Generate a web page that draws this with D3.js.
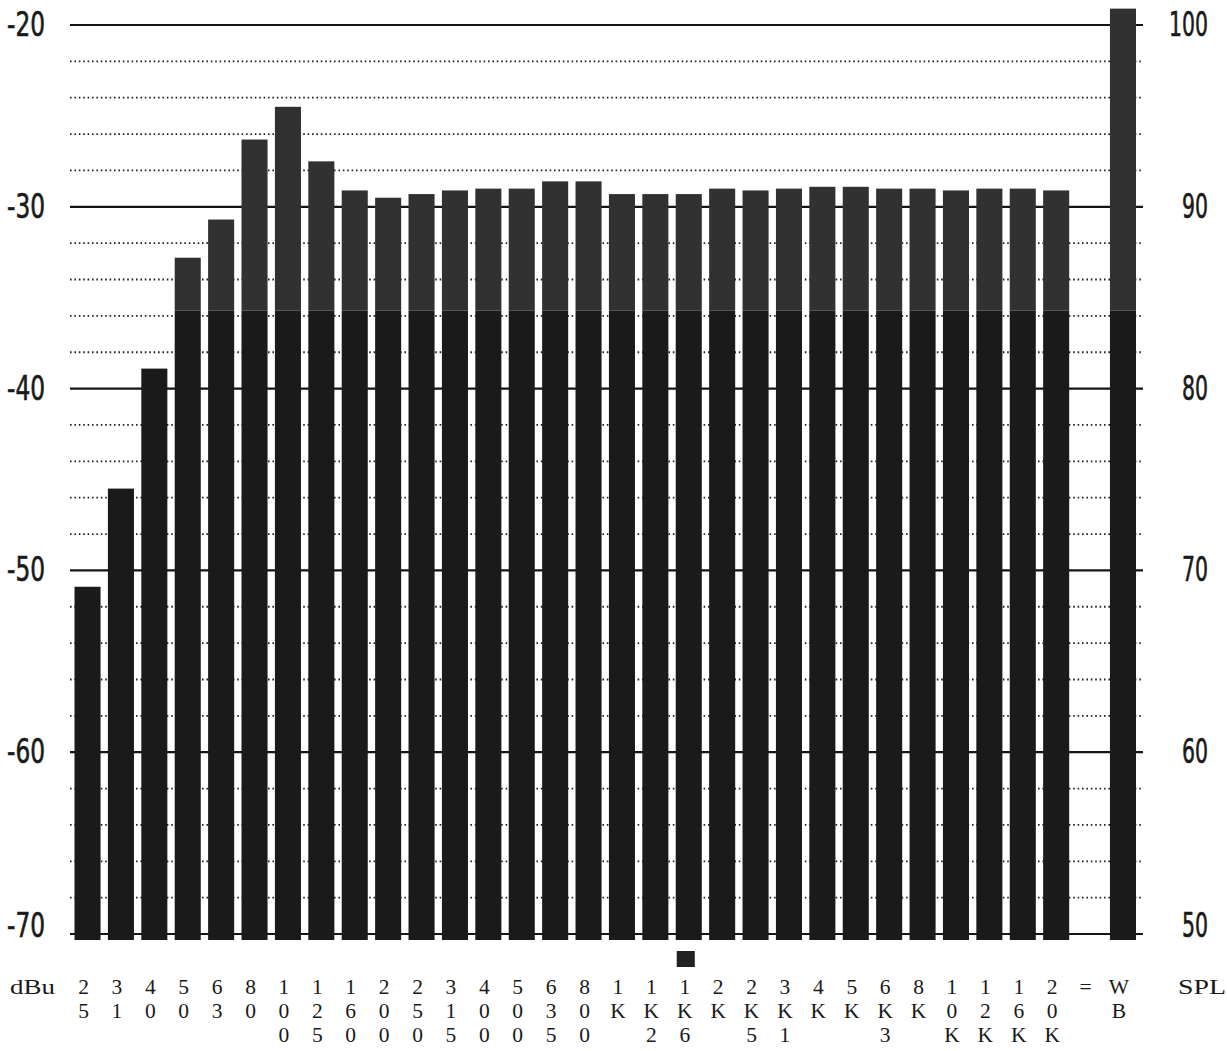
<!DOCTYPE html>
<html>
<head>
<meta charset="utf-8">
<title>1/3 octave RTA</title>
<script src="https://cdn.jsdelivr.net/npm/d3@7"></script>
<style>
  body { margin: 0; background: #fff; }
  .num { font-family: "Liberation Sans Narrow", "DejaVu Sans Condensed", sans-serif; font-size: 34px; fill: #1a1a1a; stroke: #1a1a1a; stroke-width: 0.6px; }
  .lab { font-family: "Liberation Serif", "DejaVu Serif", serif; font-size: 21.5px; fill: #1a1a1a; }
</style>
</head>
<body>
<svg width="1227" height="1051"></svg>
<script>
// band names and how they are printed underneath (3 chars, one per row)
var bands = ["25","31","40","50","63","80","100","125","160","200","250","315","400","500","630","800",
  "1K","1K25","1K6","2K","2K5","3K15","4K","5K","6K3","8K","10K","12K5","16K","20K"];
var bandLabels = ["25","31","40","50","63","80","100","125","160","200","250","315","400","500","635","800",
  "1K","1K2","1K6","2K","2K5","3K1","4K","5K","6K3","8K","10K","12K","16K","20K"];
// levels in dBu
var levels = [-50.9, -45.5, -38.9, -32.8, -30.7, -26.3, -24.5, -27.5, -29.1, -29.5,
  -29.3, -29.1, -29.0, -29.0, -28.6, -28.6, -29.3, -29.3, -29.3, -29.0,
  -29.1, -29.0, -28.9, -28.9, -29.0, -29.0, -29.1, -29.0, -29.0, -29.1];
var wideband = -19.1;        // "WB" bar
var shadeLevel = -35.7;      // bars change tone above this
var markerBand = "1K6";      // small square under one band
var dbuTicks = [-70, -60, -50, -40, -30, -20];
var splTicks = [50, 60, 70, 80, 90, 100];

var svg = d3.select("svg");

var slots = bands.concat(["=", "WB"]);
var x = d3.scaleBand().domain(slots).range([74.5, 1136]).paddingInner(0.22).paddingOuter(0);
var y = d3.scaleLinear().domain([-70, -20]).range([934, 25]);
var ySpl = d3.scaleLinear().domain([50, 100]).range([934, 25]);

var gridX0 = 70, gridX1 = 1143;

// dotted minor lines every 2 dB
var minor = d3.range(-68, -20, 2).filter(function(d) { return d % 10 !== 0; });
svg.append("g").selectAll("line").data(minor).join("line")
  .attr("x1", gridX0).attr("x2", gridX1)
  .attr("y1", function(d) { return y(d); }).attr("y2", function(d) { return y(d); })
  .attr("stroke", "#222").attr("stroke-width", 1.8).attr("stroke-dasharray", "1.6,2.8");

// solid lines every 10 dB
svg.append("g").selectAll("line").data(dbuTicks).join("line")
  .attr("x1", gridX0).attr("x2", gridX1)
  .attr("y1", function(d) { return y(d); }).attr("y2", function(d) { return y(d); })
  .attr("stroke", "#151515").attr("stroke-width", 2.2);

// bars
var rows = bands.map(function(b, i) { return { band: b, v: levels[i] }; });
rows.push({ band: "WB", v: wideband });
var base = y(-70) + 6;

var bars = svg.append("g").selectAll("g").data(rows).join("g");
bars.append("rect")
  .attr("x", function(d) { return x(d.band); })
  .attr("width", x.bandwidth())
  .attr("y", function(d) { return y(d.v); })
  .attr("height", function(d) { return Math.max(0, Math.min(y(shadeLevel), base) - y(d.v)); })
  .attr("fill", "#313131");
bars.append("rect")
  .attr("x", function(d) { return x(d.band); })
  .attr("width", x.bandwidth())
  .attr("y", function(d) { return Math.max(y(d.v), y(shadeLevel)); })
  .attr("height", function(d) { return base - Math.max(y(d.v), y(shadeLevel)); })
  .attr("fill", "#1a1a1a");

// marker under the selected band
svg.append("rect")
  .attr("x", x(markerBand) + 1).attr("width", x.bandwidth() - 8)
  .attr("y", base + 11).attr("height", 16)
  .attr("fill", "#222");

// left dBu numbers
svg.append("g").selectAll("text").data(dbuTicks).join("text")
  .attr("class", "num")
  .attr("x", 45).attr("text-anchor", "end")
  .attr("y", function(d) { return Math.min(y(d) + 11, y(-70) + 3); })
  .attr("textLength", 38).attr("lengthAdjust", "spacingAndGlyphs")
  .text(function(d) { return d; });

// right SPL numbers
svg.append("g").selectAll("text").data(splTicks).join("text")
  .attr("class", "num")
  .attr("x", 1208).attr("text-anchor", "end")
  .attr("y", function(d) { return Math.min(ySpl(d) + 11, ySpl(50) + 3); })
  .attr("textLength", function(d) { return String(d).length * 13; })
  .attr("lengthAdjust", "spacingAndGlyphs")
  .text(function(d) { return d; });

// band labels, written vertically one char per row (one text per column)
var colText = bandLabels.concat(["=", "WB"]);
var rowStep = 23.8, row0 = 994;
var cols = svg.append("g").selectAll("text").data(slots).join("text")
  .attr("class", "lab")
  .attr("text-anchor", "middle")
  .attr("y", row0);
cols.each(function(s, i) {
  var cx = x(s) + x.bandwidth() / 2 - 4;
  d3.select(this).selectAll("tspan").data(colText[i].split("")).join("tspan")
    .attr("x", cx)
    .attr("dy", function(ch, r) { return r === 0 ? 0 : rowStep; })
    .text(function(ch) { return ch; });
});
svg.append("text").attr("class", "lab").attr("x", 10).attr("y", row0)
  .attr("textLength", 45).attr("lengthAdjust", "spacingAndGlyphs").text("dBu");
svg.append("text").attr("class", "lab").attr("x", 1178).attr("y", row0)
  .attr("textLength", 48).attr("lengthAdjust", "spacingAndGlyphs").text("SPL");
</script>
</body>
</html>
